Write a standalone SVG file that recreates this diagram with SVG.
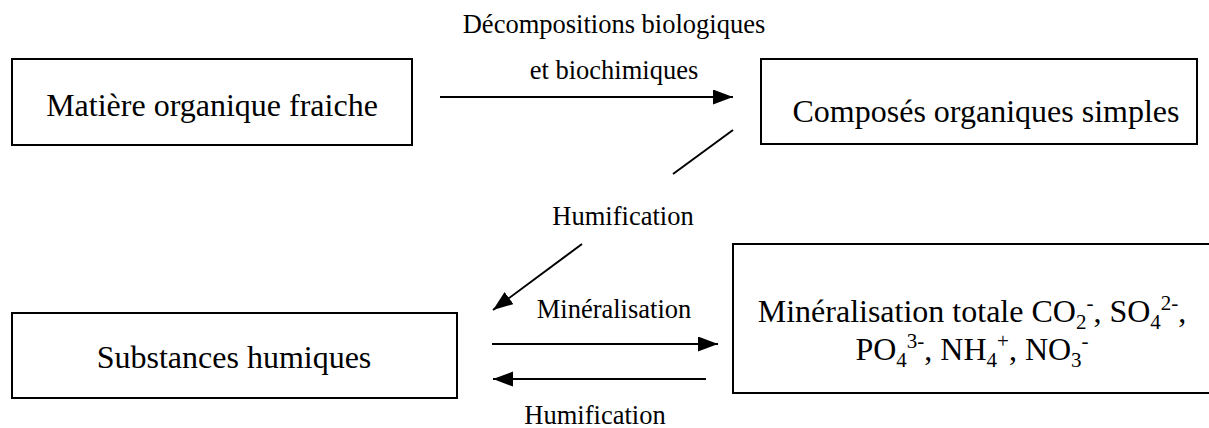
<svg xmlns="http://www.w3.org/2000/svg" width="1209" height="428" viewBox="0 0 1209 428">
<style>
.box{fill:#fff;stroke:#000;stroke-width:2}
.t{font-family:"Liberation Serif","Times New Roman",serif;font-size:32px;fill:#000;text-anchor:middle}
.l{font-family:"Liberation Serif","Times New Roman",serif;font-size:26.5px;fill:#000;text-anchor:middle}
.s{font-size:21px}
.c{stroke:#000;stroke-width:2;fill:none}
</style>
<defs>
<marker id="ah" markerUnits="userSpaceOnUse" markerWidth="20" markerHeight="16" refX="20" refY="7.5" orient="auto">
<path d="M0,0 L20,7.5 L0,15 z" fill="#000"/>
</marker>
</defs>
<rect width="1209" height="428" fill="#fff"/>
<g id="n1">
<rect class="box" x="12" y="59" width="400" height="86"/>
<text class="t" x="212" y="116">Matière organique fraiche</text>
</g>
<g id="n2">
<rect class="box" x="761" y="59" width="436" height="85"/>
<text class="t" x="986" y="122">Composés organiques simples</text>
</g>
<g id="n3">
<rect class="box" x="12" y="313" width="445" height="85"/>
<text class="t" x="234" y="368">Substances humiques</text>
</g>
<g id="n4">
<rect class="box" x="733" y="244" width="480" height="149"/>
<text class="t" x="972" y="322">Minéralisation totale CO<tspan class="s" dy="7">2</tspan><tspan class="s" dy="-19">-</tspan><tspan dy="12">, SO</tspan><tspan class="s" dy="7">4</tspan><tspan class="s" dy="-19">2-</tspan><tspan dy="12">,</tspan></text>
<text class="t" x="972" y="360">PO<tspan class="s" dy="7">4</tspan><tspan class="s" dy="-19">3-</tspan><tspan dy="12">, NH</tspan><tspan class="s" dy="7">4</tspan><tspan class="s" dy="-19">+</tspan><tspan dy="12">, NO</tspan><tspan class="s" dy="7">3</tspan><tspan class="s" dy="-19">-</tspan></text>
</g>
<g id="connectors">
<line class="c" x1="440" y1="97" x2="733" y2="97" marker-end="url(#ah)"/>
<line class="c" x1="733" y1="130" x2="673" y2="174"/>
<line class="c" x1="582" y1="244" x2="493" y2="310" marker-end="url(#ah)"/>
<line class="c" x1="492" y1="344" x2="718" y2="344" marker-end="url(#ah)"/>
<line class="c" x1="706" y1="379" x2="493" y2="379" marker-end="url(#ah)"/>
</g>
<g id="labels">
<text class="l" x="614" y="33">Décompositions biologiques</text>
<text class="l" x="614" y="79">et biochimiques</text>
<text class="l" x="623" y="225">Humification</text>
<text class="l" x="614" y="318">Minéralisation</text>
<text class="l" x="595" y="424">Humification</text>
</g>
</svg>
